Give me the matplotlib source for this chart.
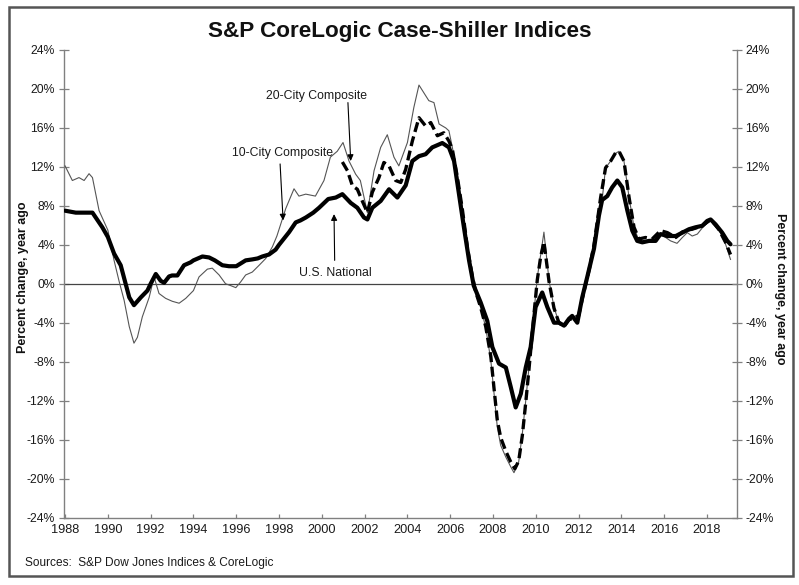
import numpy as np
import matplotlib
matplotlib.use("Agg")
import matplotlib.pyplot as plt
from matplotlib.patches import Rectangle
from matplotlib.ticker import FuncFormatter

# U.S. National, % change year ago
nat_years = [1988.0, 1988.5, 1989.0, 1989.28, 1989.74, 1990.0, 1990.29, 1990.6, 1990.83, 1991.0,
             1991.22, 1991.54, 1991.85, 1992.0, 1992.24, 1992.47, 1992.63, 1992.86, 1993.0, 1993.25,
             1993.56, 1993.87, 1994.0, 1994.42, 1994.73, 1995.0, 1995.35, 1995.66, 1996.0, 1996.44,
             1996.75, 1997.0, 1997.22, 1997.53, 1997.84, 1998.0, 1998.47, 1998.78, 1999.0, 1999.25,
             1999.6, 1999.87, 2000.3, 2000.65, 2000.96, 2001.35, 2001.66, 2001.97, 2002.13, 2002.36,
             2002.75, 2003.14, 2003.53, 2003.92, 2004.23, 2004.54, 2004.85, 2005.16, 2005.63, 2005.94,
             2006.18, 2006.41, 2006.64, 2006.88, 2007.1, 2007.42, 2007.73, 2007.97, 2008.28, 2008.6,
             2008.83, 2009.06, 2009.3, 2009.53, 2009.76, 2009.99, 2010.3, 2010.54, 2010.85, 2011.08,
             2011.32, 2011.55, 2011.7, 2011.94, 2012.17, 2012.4, 2012.72, 2012.95, 2013.1, 2013.34,
             2013.57, 2013.81, 2014.04, 2014.28, 2014.51, 2014.74, 2014.98, 2015.29, 2015.6, 2015.83,
             2016.15, 2016.54, 2016.85, 2017.16, 2017.47, 2017.78, 2018.01, 2018.17, 2018.4, 2018.71,
             2018.95, 2019.1]
nat_vals = [7.5, 7.3, 7.3, 7.3, 5.8, 4.8, 3.1, 1.9, 0.0, -1.4,
            -2.2, -1.4, -0.7, 0.0, 1.0, 0.3, 0.1, 0.75, 0.85, 0.85,
            1.9, 2.2, 2.4, 2.8, 2.7, 2.4, 1.9, 1.8, 1.8, 2.4,
            2.5, 2.6, 2.8, 3.0, 3.5, 4.0, 5.3, 6.3, 6.5, 6.8,
            7.3, 7.8, 8.7, 8.85, 9.2, 8.3, 7.8, 6.8, 6.6, 7.8,
            8.5, 9.7, 8.85, 10.1, 12.6, 13.1, 13.3, 14.0, 14.45, 14.0,
            12.6, 9.2, 5.8, 2.4, -0.2, -1.9, -3.8, -6.5, -8.2, -8.6,
            -10.6, -12.7, -11.3, -8.6, -6.5, -2.4, -0.9, -2.4, -4.0, -4.0,
            -4.3, -3.6, -3.3, -4.0, -1.4, 0.65, 3.6, 7.0, 8.6, 9.0,
            9.9, 10.6, 9.9, 7.5, 5.45, 4.4, 4.25, 4.4, 4.4, 5.1,
            4.9, 4.9, 5.25, 5.6, 5.8, 5.95, 6.45, 6.6, 6.1, 5.25,
            4.4, 4.05]

# 10-City Composite
c10_years = [1988.0, 1988.34, 1988.65, 1988.89, 1989.12, 1989.28, 1989.59, 1990.0, 1990.29, 1990.52,
             1990.76, 1991.0, 1991.22, 1991.38, 1991.61, 1991.93, 1992.16, 1992.39, 1992.7, 1993.01,
             1993.33, 1993.64, 1994.0, 1994.26, 1994.65, 1994.88, 1995.2, 1995.5, 1995.75, 1995.98,
             1996.21, 1996.44, 1996.75, 1997.07, 1997.38, 1997.69, 1997.9, 1998.31, 1998.7, 1998.93,
             1999.25, 1999.7, 2000.1, 2000.4, 2000.72, 2000.99, 2001.27, 2001.58, 2001.8, 2002.13,
             2002.44, 2002.75, 2003.06, 2003.37, 2003.6, 2004.0, 2004.3, 2004.54, 2005.0, 2005.24,
             2005.48, 2005.79, 2005.94, 2006.1, 2006.33, 2006.57, 2006.8, 2007.03, 2007.2, 2007.42,
             2007.66, 2007.9, 2008.05, 2008.2, 2008.36, 2008.6, 2008.83, 2008.98, 2009.2, 2009.37,
             2009.53, 2009.68, 2009.92, 2010.07, 2010.23, 2010.38, 2010.62, 2010.85, 2011.08, 2011.32,
             2011.55, 2011.78, 2012.0, 2012.25, 2012.5, 2012.8, 2013.1, 2013.26, 2013.5, 2013.73,
             2013.89, 2014.12, 2014.36, 2014.59, 2014.82, 2015.13, 2015.44, 2015.83, 2016.07, 2016.3,
             2016.6, 2016.85, 2017.08, 2017.31, 2017.55, 2017.86, 2018.17, 2018.55, 2018.87, 2019.1]
c10_vals = [12.1, 10.6, 10.9, 10.6, 11.3, 10.9, 7.5, 5.5, 2.4, 0.3,
            -1.7, -4.4, -6.1, -5.5, -3.4, -1.4, 0.7, -1.0, -1.5, -1.8,
            -2.0, -1.5, -0.7, 0.7, 1.5, 1.6, 0.9, 0.0, -0.2, -0.4,
            0.2, 0.9, 1.2, 1.9, 2.6, 3.8, 4.9, 7.7, 9.75, 9.0,
            9.2, 9.0, 10.6, 13.0, 13.6, 14.5, 12.6, 11.25, 10.6, 7.3,
            11.6, 14.0, 15.3, 13.0, 12.1, 14.5, 18.1, 20.4, 18.8, 18.6,
            16.4, 16.0, 15.7, 14.0, 11.25, 7.8, 3.7, 0.65, -1.0, -2.4,
            -4.5, -7.9, -11.3, -14.7, -16.6, -17.8, -18.8, -19.4, -18.3, -15.4,
            -12.0, -8.6, -2.8, 0.65, 3.0, 5.3, 0.3, -2.4, -4.0, -4.3,
            -3.6, -3.45, -3.1, -0.7, 1.7, 5.1, 8.6, 11.9, 12.6, 13.4,
            13.6, 12.6, 8.85, 5.8, 4.4, 4.4, 4.6, 5.1, 4.75, 4.4,
            4.15, 4.75, 5.25, 4.9, 5.1, 5.95, 6.45, 5.6, 4.05, 2.5]

# 20-City Composite (starts 2001)
c20_years = [2000.96, 2001.2, 2001.43, 2001.66, 2001.89, 2002.13, 2002.36, 2002.67, 2002.9, 2003.14,
             2003.45, 2003.69, 2003.92, 2004.23, 2004.54, 2004.85, 2005.09, 2005.4, 2005.7, 2005.94,
             2006.1, 2006.33, 2006.57, 2006.8, 2007.03, 2007.2, 2007.42, 2007.66, 2007.9, 2008.05,
             2008.2, 2008.36, 2008.6, 2008.83, 2009.02, 2009.2, 2009.37, 2009.53, 2009.68, 2009.92,
             2010.07, 2010.23, 2010.38, 2010.62, 2010.85, 2011.08, 2011.32, 2011.55, 2011.78, 2012.0,
             2012.25, 2012.5, 2012.72, 2013.03, 2013.26, 2013.5, 2013.73, 2013.89, 2014.12, 2014.36,
             2014.59, 2014.82, 2015.13, 2015.44, 2015.83, 2016.15, 2016.54, 2016.93, 2017.31, 2017.78,
             2018.17, 2018.55, 2018.87, 2019.1]
c20_vals = [12.5, 11.6, 10.05, 9.7, 8.5, 7.3, 9.4, 10.9, 12.45, 12.1,
            10.6, 10.4, 11.75, 14.65, 17.05, 16.2, 16.55, 15.2, 15.5, 14.65,
            13.8, 11.0, 7.6, 3.8, 0.8, -0.9, -2.4, -4.4, -7.5, -10.8,
            -14.0, -15.8, -17.2, -18.3, -19.0, -18.2, -15.6, -12.2, -8.8, -3.0,
            0.4, 2.8, 4.3, 0.2, -2.5, -4.0, -4.4, -3.7, -3.5, -3.3,
            -0.8, 1.5, 4.0, 8.85, 11.9, 12.6, 13.45, 13.6, 12.6, 8.85,
            5.8, 4.6, 4.75, 4.6, 5.45, 5.25, 4.75, 5.45, 5.6, 5.95,
            6.6, 5.6, 4.25, 3.0]

year_ticks = list(range(1988, 2019, 2))
pct_ticks = list(range(-24, 25, 4))

W, H = 799, 585
fig = plt.figure(figsize=(W / 100, H / 100), dpi=100)
fig.patch.set_facecolor("white")

ax = fig.add_axes([64 / W, 1 - 517.5 / H, (736.5 - 64) / W, (517.5 - 50) / H])

ax.plot(c10_years, c10_vals, color="#555555", linewidth=0.8, solid_joinstyle="round", zorder=3)
ax.plot(c20_years, c20_vals, color="black", linewidth=2.4, dashes=(3, 1.4),
        dash_joinstyle="round", zorder=4)
ax.plot(nat_years, nat_vals, color="black", linewidth=3.0, solid_capstyle="round",
        solid_joinstyle="round", zorder=5)

ax.axhline(0, color="#444444", linewidth=0.9, zorder=2)

ax.set_xlim(1987.95, 2019.38)
ax.set_ylim(-24, 24)
ax.set_xticks(year_ticks)
ax.set_yticks(pct_ticks)
pct_fmt = FuncFormatter(lambda v, p: f"{v:.0f}%")
ax.yaxis.set_major_formatter(pct_fmt)

for side in ["left", "right", "bottom"]:
    ax.spines[side].set_color("#808080")
    ax.spines[side].set_linewidth(1.0)
ax.spines["top"].set_visible(False)

ax.tick_params(axis="y", direction="inout", length=7, width=0.9, color="#808080",
               labelsize=8.8, labelcolor="#1a1a1a", pad=3)
ax.tick_params(axis="x", direction="in", length=3, width=0.9, color="#808080",
               labelsize=9.2, labelcolor="#1a1a1a", pad=5)
for lab in ax.get_xticklabels():
    lab.set_family(["Liberation Sans Narrow", "Liberation Sans"])
for lab in ax.get_yticklabels():
    lab.set_family("Liberation Sans")

ax2 = ax.twinx()
ax2.set_ylim(-24, 24)
ax2.set_yticks(pct_ticks)
ax2.yaxis.set_major_formatter(pct_fmt)
for side in ["left", "right", "bottom", "top"]:
    ax2.spines[side].set_visible(False)
ax2.tick_params(axis="y", direction="inout", length=7, width=0.9, color="#808080",
                labelsize=8.8, labelcolor="#1a1a1a", pad=3)
for lab in ax2.get_yticklabels():
    lab.set_family("Liberation Sans")

# annotations
note_kw = dict(fontsize=8.8, family="Liberation Sans", color="#1a1a1a", ha="center", va="center")
arrow_kw = dict(arrowstyle="-|>", color="black", lw=0.8, mutation_scale=9, shrinkA=0, shrinkB=0)

ax.text(1999.73, 19.3, "20-City Composite", **note_kw)
ax.annotate("", xy=(2001.35, 12.6), xytext=(2001.22, 18.6), arrowprops=arrow_kw)

ax.text(1998.14, 13.4, "10-City Composite", **note_kw)
ax.annotate("", xy=(1998.19, 6.5), xytext=(1998.05, 12.3), arrowprops=arrow_kw)

ax.text(2000.65, 1.1, "U.S. National", **note_kw)
ax.annotate("", xy=(2000.57, 7.15), xytext=(2000.6, 2.4), arrowprops=arrow_kw)

# titles and labels
fig.text(0.5, 1 - 31 / H, "S&P CoreLogic Case-Shiller Indices", ha="center", va="center",
         fontsize=16.2, fontweight="bold", family="Liberation Sans", color="#111111")
fig.text(22.7 / W, 1 - 277 / H, "Percent change, year ago", rotation=90, ha="center", va="center",
         fontsize=9, fontweight="bold", family="Liberation Sans", color="#111111")
fig.text(780 / W, 1 - 289 / H, "Percent change, year ago", rotation=-90, ha="center", va="center",
         fontsize=9, fontweight="bold", family="Liberation Sans", color="#111111")
fig.text(25 / W, 1 - 563 / H, "Sources:  S&P Dow Jones Indices & CoreLogic", ha="left", va="center",
         fontsize=8.6, family="Liberation Sans", color="#1a1a1a")

# outer frame
fig.patches.append(Rectangle((9 / W, 1 - 576 / H), (793 - 9) / W, (576 - 7) / H,
                             transform=fig.transFigure, fill=False, edgecolor="#555555",
                             linewidth=1.8, zorder=10))

fig.savefig("out.png", dpi=100)
